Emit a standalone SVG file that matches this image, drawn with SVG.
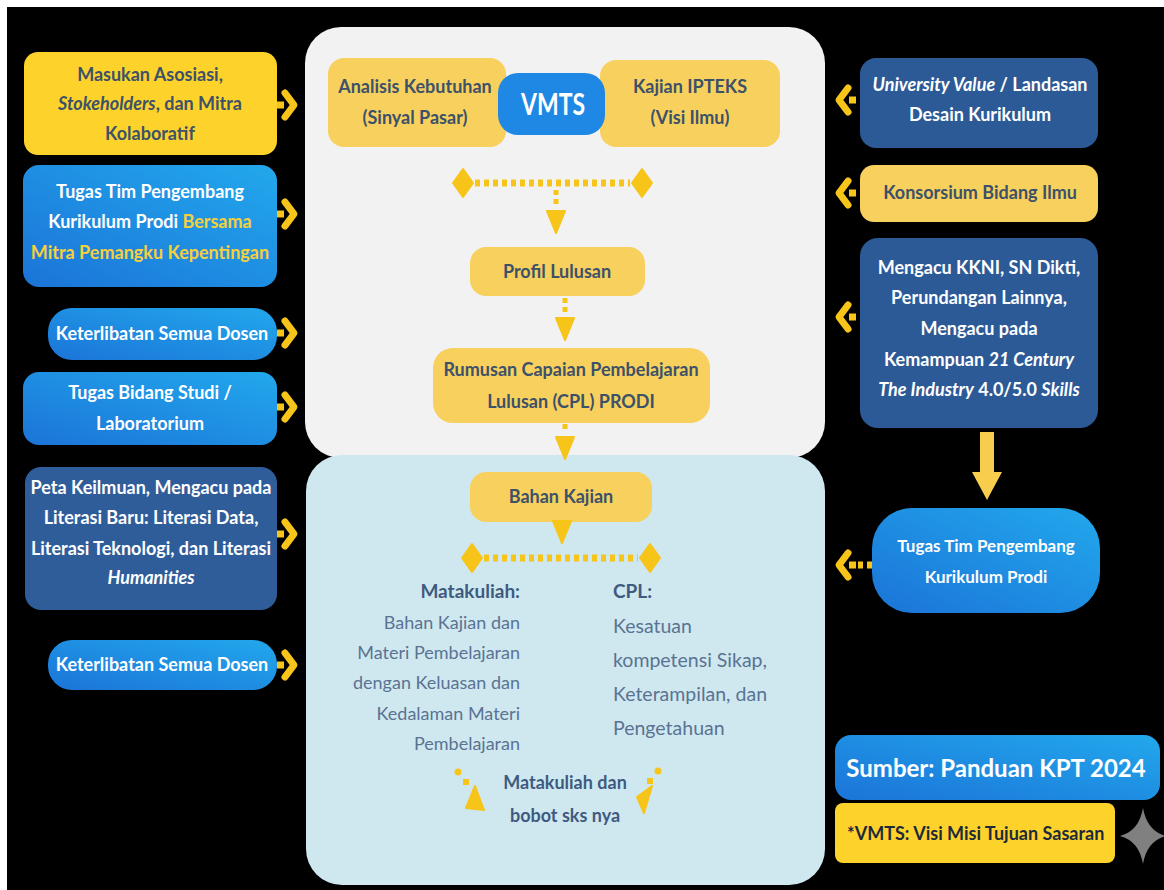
<svg xmlns="http://www.w3.org/2000/svg" width="1164" height="890" viewBox="0 0 1164 890">
<defs>
<linearGradient id="gB" x1="0" y1="1" x2="1" y2="0">
<stop offset="0" stop-color="#1b74d8"/>
<stop offset="1" stop-color="#22a8ec"/>
</linearGradient>
<g id="chev">
<rect x="-11" y="-3.5" width="7" height="7" fill="#f7c51a"/>
<path d="M-3,-12 L6,0 L-3,12" fill="none" stroke="#f7c51a" stroke-width="7" stroke-linecap="round" stroke-linejoin="round"/>
</g>
<path id="dia" d="M0,-14 L10,0 L0,14 L-10,0 Z" fill="#f7c51a" stroke="#f7c51a" stroke-width="2" stroke-linejoin="round"/>
<path id="tri" d="M-9,0 L9,0 L0,22 Z" fill="#f7c51a" stroke="#f7c51a" stroke-width="2" stroke-linejoin="round"/>
</defs>
<style>
.t{font-family:Lato,"Open Sans","Liberation Sans",sans-serif;font-weight:700;font-size:18px;text-anchor:middle}
.dk{fill:#3d5169}
.wh{fill:#ffffff}
.yl{fill:#f6cf3c}
.it{font-style:italic}
.body{font-family:Lato,"Open Sans","Liberation Sans",sans-serif;font-size:18px;fill:#5a7393}
.dot{fill:none;stroke:#f7c51a;stroke-width:7;stroke-dasharray:5 4}
</style>
<rect x="0" y="0" width="1164" height="890" fill="#ffffff"/>
<rect x="7" y="7" width="1157" height="883" fill="#000000"/>

<!-- panels -->
<g id="panel-top"><rect x="305" y="27" width="520" height="431" rx="36" fill="#f2f2f2"/></g>
<g id="panel-bottom"><rect x="306" y="455" width="519" height="430" rx="36" fill="#cfe8ef"/></g>

<!-- left column -->
<g id="masukan">
<rect x="24" y="52" width="253" height="103" rx="14" fill="#fdd32b"/>
<text class="t dk" x="150" y="81">Masukan Asosiasi,</text>
<text class="t dk" x="150" y="110"><tspan class="it">Stokeholders</tspan>, dan Mitra</text>
<text class="t dk" x="150" y="140">Kolaboratif</text>
</g>
<g id="tugas-tim-left">
<rect x="23" y="165" width="254" height="122" rx="16" fill="url(#gB)"/>
<text class="t wh" x="150" y="198">Tugas Tim Pengembang</text>
<text class="t wh" x="150" y="228">Kurikulum Prodi <tspan class="yl">Bersama</tspan></text>
<text class="t yl" x="150" y="259">Mitra Pemangku Kepentingan</text>
</g>
<g id="keterlibatan-1">
<rect x="48" y="308" width="229" height="52" rx="24" fill="url(#gB)"/>
<text class="t wh" x="162" y="340">Keterlibatan Semua Dosen</text>
</g>
<g id="tugas-bidang">
<rect x="23" y="372" width="254" height="73" rx="16" fill="url(#gB)"/>
<text class="t wh" x="150" y="399">Tugas Bidang Studi /</text>
<text class="t wh" x="150" y="430">Laboratorium</text>
</g>
<g id="peta-keilmuan">
<rect x="25" y="467" width="252" height="143" rx="16" fill="#2f5d9a"/>
<text class="t wh" x="151" y="494">Peta Keilmuan, Mengacu pada</text>
<text class="t wh" x="151" y="524">Literasi Baru: Literasi Data,</text>
<text class="t wh" x="151" y="555">Literasi Teknologi, dan Literasi</text>
<text class="t wh it" x="151" y="584">Humanities</text>
</g>
<g id="keterlibatan-2">
<rect x="48" y="640" width="229" height="50" rx="24" fill="url(#gB)"/>
<text class="t wh" x="162" y="671">Keterlibatan Semua Dosen</text>
</g>

<!-- center top -->
<g id="analisis">
<rect x="328" y="58" width="178" height="89" rx="16" fill="#f8d05d"/>
<text class="t dk" x="415" y="93">Analisis Kebutuhan</text>
<text class="t dk" x="415" y="124">(Sinyal Pasar)</text>
</g>
<g id="kajian">
<rect x="600" y="60" width="180" height="87" rx="16" fill="#f8d05d"/>
<text class="t dk" x="690" y="93">Kajian IPTEKS</text>
<text class="t dk" x="690" y="124">(Visi Ilmu)</text>
</g>
<g id="vmts">
<rect x="498" y="73" width="107" height="62" rx="20" fill="#1f88e5"/>
<text class="t wh" x="553" y="115" style="font-size:30px" textLength="64" lengthAdjust="spacingAndGlyphs">VMTS</text>
</g>
<g id="profil">
<rect x="470" y="247" width="175" height="49" rx="16" fill="#f8d05d"/>
<text class="t dk" x="557" y="278">Profil Lulusan</text>
</g>
<g id="rumusan">
<rect x="433" y="348" width="277" height="75" rx="20" fill="#f8d05d"/>
<text class="t dk" x="571" y="376">Rumusan Capaian Pembelajaran</text>
<text class="t dk" x="571" y="408">Lulusan (CPL) PRODI</text>
</g>

<!-- center bottom -->
<g id="bahan-kajian">
<rect x="470" y="472" width="182" height="50" rx="16" fill="#f8d05d"/>
<text class="t dk" x="561" y="503">Bahan Kajian</text>
</g>
<g id="matakuliah">
<text class="t" x="520" y="598" style="text-anchor:end;fill:#3f5a80;font-size:19px">Matakuliah:</text>
<text class="body" x="520" y="629" text-anchor="end">Bahan Kajian dan</text>
<text class="body" x="520" y="659" text-anchor="end">Materi Pembelajaran</text>
<text class="body" x="520" y="689" text-anchor="end">dengan Keluasan dan</text>
<text class="body" x="520" y="720" text-anchor="end">Kedalaman Materi</text>
<text class="body" x="520" y="750" text-anchor="end">Pembelajaran</text>
</g>
<g id="cpl">
<text class="t" x="613" y="598" style="text-anchor:start;fill:#3f5a80;font-size:19px">CPL:</text>
<text class="body" x="613" y="633" style="font-size:19.5px">Kesatuan</text>
<text class="body" x="613" y="667" style="font-size:19.5px">kompetensi Sikap,</text>
<text class="body" x="613" y="701" style="font-size:19.5px">Keterampilan, dan</text>
<text class="body" x="613" y="735" style="font-size:19.5px">Pengetahuan</text>
</g>
<g id="matakuliah-sks">
<text class="t" x="565" y="789" style="fill:#3f5a80">Matakuliah dan</text>
<text class="t" x="565" y="822" style="fill:#3f5a80">bobot sks nya</text>
</g>

<!-- right column -->
<g id="university-value">
<rect x="860" y="58" width="238" height="90" rx="16" fill="#2c5a97"/>
<text class="t wh" x="980" y="91"><tspan class="it">University Value</tspan> / Landasan</text>
<text class="t wh" x="980" y="121">Desain Kurikulum</text>
</g>
<g id="konsorsium">
<rect x="860" y="165" width="238" height="57" rx="14" fill="#f8d05d"/>
<text class="t dk" x="980" y="199">Konsorsium Bidang Ilmu</text>
</g>
<g id="mengacu">
<rect x="860" y="238" width="238" height="190" rx="18" fill="#2c5a97"/>
<text class="t wh" x="979" y="274">Mengacu KKNI, SN Dikti,</text>
<text class="t wh" x="979" y="304">Perundangan Lainnya,</text>
<text class="t wh" x="979" y="335">Mengacu pada</text>
<text class="t wh" x="979" y="366">Kemampuan <tspan class="it">21 Century</tspan></text>
<text class="t wh" x="979" y="396"><tspan class="it">The Industry</tspan> 4.0/5.0 <tspan class="it">Skills</tspan></text>
</g>
<g id="tugas-tim-right">
<rect x="872" y="508" width="228" height="105" rx="40" fill="url(#gB)"/>
<text class="t wh" x="986" y="552" style="font-size:17px">Tugas Tim Pengembang</text>
<text class="t wh" x="986" y="583" style="font-size:17px">Kurikulum Prodi</text>
</g>
<g id="sumber">
<rect x="835" y="735" width="325" height="65" rx="16" fill="url(#gB)"/>
<text class="t wh" x="996" y="777" style="font-size:24px">Sumber: Panduan KPT 2024</text>
</g>
<g id="vmts-note">
<rect x="835" y="803" width="280" height="60" rx="8" fill="#fdd32b"/>
<text class="t dk" x="847" y="840" style="text-anchor:start;fill:#1e2a3a">*VMTS: Visi Misi Tujuan Sasaran</text>
</g>
<g id="star">
<path d="M1143,808 Q1147,831 1166,836 Q1147,841 1143,864 Q1139,841 1120,836 Q1139,831 1143,808 Z" fill="#808080"/>
</g>

<!-- connectors -->
<g id="connectors">
<use href="#chev" transform="translate(288,105)"/>
<use href="#chev" transform="translate(288,214)"/>
<use href="#chev" transform="translate(288,333)"/>
<use href="#chev" transform="translate(288,407)"/>
<use href="#chev" transform="translate(288,534)"/>
<use href="#chev" transform="translate(288,665)"/>
<use href="#chev" transform="translate(845,100) scale(-1,1)"/>
<use href="#chev" transform="translate(845,193) scale(-1,1)"/>
<use href="#chev" transform="translate(845,317) scale(-1,1)"/>
<use href="#chev" transform="translate(845,565) scale(-1,1)"/>
<line x1="858" y1="565" x2="872" y2="565" class="dot"/>
<!-- top dotted split -->
<line x1="475" y1="183" x2="630" y2="183" class="dot"/>
<use href="#dia" x="463" y="183"/>
<use href="#dia" x="642" y="183"/>
<line x1="556" y1="190" x2="556" y2="204" class="dot" style="stroke-width:5"/>
<use href="#tri" x="556" y="211"/>
<!-- profil to rumusan -->
<line x1="565" y1="298" x2="565" y2="312" class="dot" style="stroke-width:5"/>
<use href="#tri" x="565" y="318"/>
<!-- rumusan to bahan kajian -->
<line x1="565" y1="424" x2="565" y2="432" class="dot" style="stroke-width:5"/>
<use href="#tri" x="565" y="437"/>
<!-- bahan kajian down -->
<use href="#tri" x="562" y="521"/>
<line x1="484" y1="558" x2="638" y2="558" class="dot"/>
<use href="#dia" x="472" y="558"/>
<use href="#dia" x="650" y="558"/>
<!-- right big down arrow -->
<path d="M980,432 L994,432 L994,472 L1002,472 L987,500 L972,472 L980,472 Z" fill="#f8cd4e"/>
<!-- decorative converging marks -->
<circle cx="458" cy="772" r="3.5" fill="#f7c51a"/>
<rect x="463" y="779" width="6" height="6" fill="#f7c51a"/>
<path d="M475,786 L484,810 L466,808 Z" fill="#f7c51a" stroke="#f7c51a" stroke-width="2" stroke-linejoin="round"/>
<circle cx="658" cy="771" r="3.5" fill="#f7c51a"/>
<rect x="647" y="778" width="6" height="6" fill="#f7c51a"/>
<path d="M652,786 L637,797 L644,813 Z" fill="#f7c51a" stroke="#f7c51a" stroke-width="2" stroke-linejoin="round"/>
</g>
</svg>
